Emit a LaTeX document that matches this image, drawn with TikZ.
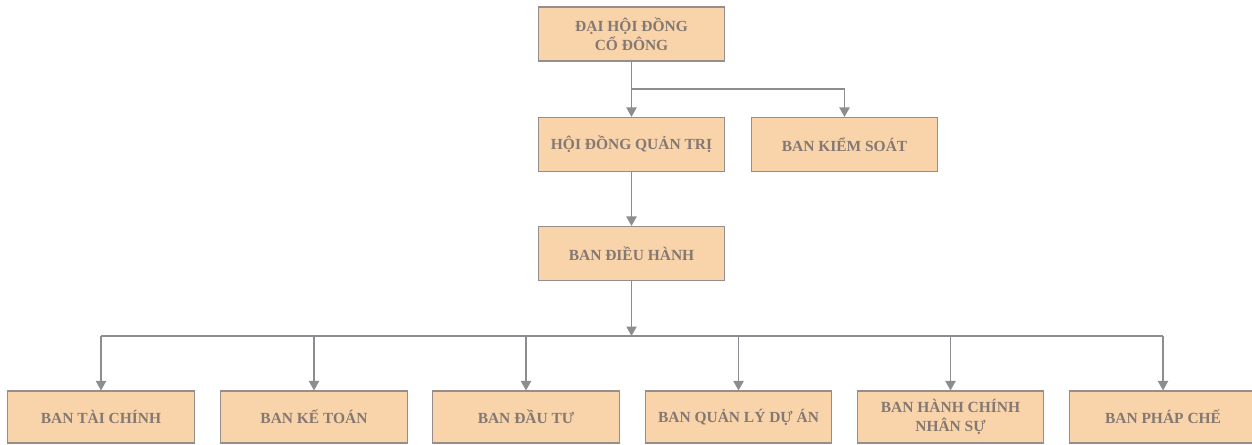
\documentclass[tikz,border=0pt]{standalone}
\usepackage{fontspec}
\setmainfont{Liberation Serif}
\usetikzlibrary{arrows.meta}

\definecolor{boxfill}{RGB}{249,212,170}
\definecolor{boxline}{RGB}{150,142,138}
\definecolor{boxtext}{RGB}{132,120,114}
\definecolor{linkgray}{RGB}{140,140,145}

\tikzset{
    unit/.style={draw=boxline, fill=boxfill, line width=0.6pt, text=boxtext,
        font=\fontsize{8.8}{10.8}\selectfont\bfseries, align=center,
        minimum width=3.73cm, minimum height=1.08cm, inner sep=1pt},
    lowunit/.style={unit, minimum height=1.04cm},
    link/.style={draw=linkgray, line width=0.8pt},
    linkarrow/.style={link, -{Triangle[width=5.8pt,length=5.4pt]}}
}

\begin{document}
\begin{tikzpicture}
    \useasboundingbox (0,0) rectangle (25.04,8.9);

    % Upper levels
    \node[unit] (dhdcd) at (12.63,8.22) {ĐẠI HỘI ĐỒNG\\CỔ ĐÔNG};
    \node[unit] (hdqt)  at (12.63,6.01) {HỘI ĐỒNG QUẢN TRỊ};
    \node[unit] (bks)   at (16.89,6.01) {BAN KIỂM SOÁT};
    \node[unit] (bdh)   at (12.63,3.83) {BAN ĐIỀU HÀNH};

    % Departments
    \node[lowunit] (btc)   at (2.02,0.56)  {BAN TÀI CHÍNH};
    \node[lowunit] (bkt)   at (6.28,0.56)  {BAN KẾ TOÁN};
    \node[lowunit] (bdt)   at (10.52,0.56) {BAN ĐẦU TƯ};
    \node[lowunit] (bqlda) at (14.77,0.56) {BAN QUẢN LÝ DỰ ÁN};
    \node[lowunit] (bhcns) at (19.01,0.56) {BAN HÀNH CHÍNH\\NHÂN SỰ};
    \node[lowunit] (bpc)   at (23.26,0.56) {BAN PHÁP CHẾ};

    % Branch points
    \coordinate (split1) at (12.63,7.12);
    \coordinate (split2) at (12.63,2.18);

    % Top connectors
    \draw[linkarrow] (dhdcd.south) -- (hdqt.north);
    \draw[linkarrow] (split1) -| (bks.north);
    \draw[linkarrow] (hdqt.south) -- (bdh.north);

    % Connectors to departments
    \draw[linkarrow] (bdh.south) -- (split2);
    \draw[link] (btc.north |- split2) -- (bpc.north |- split2);
    \draw[linkarrow] (btc.north |- split2) -- (btc.north);
    \draw[linkarrow] (bkt.north |- split2) -- (bkt.north);
    \draw[linkarrow] (bdt.north |- split2) -- (bdt.north);
    \draw[linkarrow] (bqlda.north |- split2) -- (bqlda.north);
    \draw[linkarrow] (bhcns.north |- split2) -- (bhcns.north);
    \draw[linkarrow] (bpc.north |- split2) -- (bpc.north);
\end{tikzpicture}
\end{document}
